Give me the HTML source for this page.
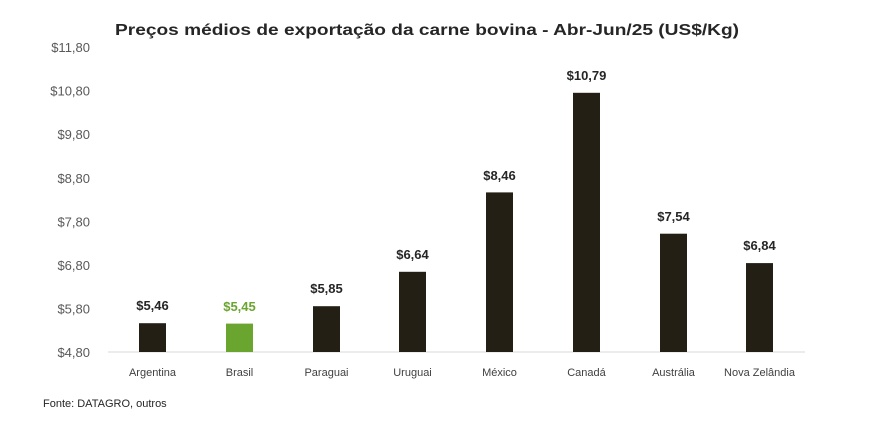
<!DOCTYPE html>
<html><head><meta charset="utf-8"><style>
body{margin:0;background:#fff;}
svg text{font-family:"Liberation Sans",sans-serif;}
</style></head><body>
<svg width="892" height="426" viewBox="0 0 892 426" xmlns="http://www.w3.org/2000/svg">
<rect width="892" height="426" fill="#fff"/>
<text x="427" y="35" text-anchor="middle" font-size="15.5" font-weight="bold" fill="#262626" textLength="624" lengthAdjust="spacingAndGlyphs">Preços médios de exportação da carne bovina - Abr-Jun/25 (US$/Kg)</text>
<g font-size="13" fill="#595959" text-anchor="end">
<text x="90" y="52">$11,80</text>
<text x="90" y="95.6">$10,80</text>
<text x="90" y="139.2">$9,80</text>
<text x="90" y="182.8">$8,80</text>
<text x="90" y="226.4">$7,80</text>
<text x="90" y="270">$6,80</text>
<text x="90" y="313.6">$5,80</text>
<text x="90" y="357.2">$4,80</text>
</g>
<line x1="108" y1="352" x2="805" y2="352" stroke="#d9d9d9" stroke-width="1"/>
<g fill="#231f14">
<rect x="139" y="323.2" width="27" height="28.8"/>
<rect x="226" y="323.6" width="27" height="28.4" fill="#6aa530"/>
<rect x="313" y="306.2" width="27" height="45.8"/>
<rect x="399" y="271.8" width="27" height="80.2"/>
<rect x="486" y="192.4" width="27" height="159.6"/>
<rect x="573" y="92.8" width="27" height="259.2"/>
<rect x="660" y="233.7" width="27" height="118.3"/>
<rect x="746" y="263.1" width="27" height="88.9"/>
</g>
<g font-size="13" font-weight="bold" fill="#262626" text-anchor="middle">
<text x="152.5" y="310">$5,46</text>
<text x="239.5" y="311" fill="#6aa530">$5,45</text>
<text x="326.5" y="293">$5,85</text>
<text x="412.5" y="259">$6,64</text>
<text x="499.5" y="180">$8,46</text>
<text x="586.5" y="80">$10,79</text>
<text x="673.5" y="221">$7,54</text>
<text x="759.5" y="250">$6,84</text>
</g>
<g font-size="11" fill="#404040" text-anchor="middle">
<text x="152.5" y="376">Argentina</text>
<text x="239.5" y="376">Brasil</text>
<text x="326.5" y="376">Paraguai</text>
<text x="412.5" y="376">Uruguai</text>
<text x="499.5" y="376">México</text>
<text x="586.5" y="376">Canadá</text>
<text x="673.5" y="376">Austrália</text>
<text x="759.5" y="376">Nova Zelândia</text>
</g>
<text x="43" y="407" font-size="11" fill="#262626">Fonte: DATAGRO, outros</text>
</svg>
</body></html>
